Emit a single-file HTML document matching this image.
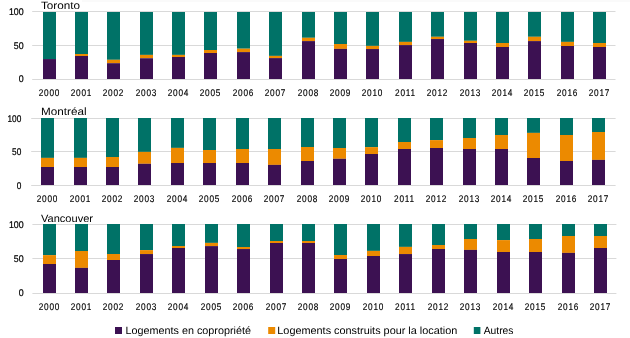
<!DOCTYPE html><html><head><meta charset="utf-8"><style>html,body{margin:0;padding:0;background:#fff;width:630px;height:338px;overflow:hidden}svg{display:block;will-change:transform}text{font-family:"Liberation Sans",sans-serif;fill:#000;text-rendering:geometricPrecision}</style></head><body>
<svg width="630" height="338" viewBox="0 0 630 338">
<rect x="0" y="0" width="630" height="338" fill="#fff"/>
<rect x="82" y="0" width="548" height="2" fill="#fafafa"/>
<rect x="32.2" y="11" width="583.30" height="1" fill="#d9d9d9"/>
<rect x="32.2" y="45" width="583.30" height="1" fill="#d9d9d9"/>
<rect x="32.2" y="79" width="583.30" height="1" fill="#d9d9d9"/>
<text x="23.6" y="15.0" font-size="9.7" text-anchor="end" stroke="#000" stroke-width="0.22" textLength="14.7" lengthAdjust="spacingAndGlyphs">100</text>
<text x="23.6" y="49.0" font-size="9.7" text-anchor="end" stroke="#000" stroke-width="0.22" textLength="9.8" lengthAdjust="spacingAndGlyphs">50</text>
<text x="23.6" y="82.1" font-size="9.7" text-anchor="end" stroke="#000" stroke-width="0.22" textLength="4.9" lengthAdjust="spacingAndGlyphs">0</text>
<text x="40.9" y="8.8" font-size="10.6" textLength="39" lengthAdjust="spacingAndGlyphs">Toronto</text>
<rect x="43.00" y="12" width="13" height="47.00" fill="#007267"/>
<rect x="43.00" y="59.05" width="13" height="19.95" fill="#3c1152"/>
<text transform="translate(49.40,96.1) scale(0.85,1)" font-size="9.7" text-anchor="middle" letter-spacing="0.84" stroke="#000" stroke-width="0.15">2000</text>
<rect x="75.00" y="12" width="13" height="42.00" fill="#007267"/>
<rect x="75.00" y="54.00" width="13" height="2.00" fill="#ec8a00"/>
<rect x="75.00" y="56.00" width="13" height="23.00" fill="#3c1152"/>
<text transform="translate(81.40,96.1) scale(0.85,1)" font-size="9.7" text-anchor="middle" letter-spacing="0.84" stroke="#000" stroke-width="0.15">2001</text>
<rect x="107.00" y="12" width="13" height="47.80" fill="#007267"/>
<rect x="107.00" y="59.80" width="13" height="3.40" fill="#ec8a00"/>
<rect x="107.00" y="63.20" width="13" height="15.80" fill="#3c1152"/>
<text transform="translate(113.40,96.1) scale(0.85,1)" font-size="9.7" text-anchor="middle" letter-spacing="0.84" stroke="#000" stroke-width="0.15">2002</text>
<rect x="140.00" y="12" width="13" height="42.90" fill="#007267"/>
<rect x="140.00" y="54.90" width="13" height="3.35" fill="#ec8a00"/>
<rect x="140.00" y="58.25" width="13" height="20.75" fill="#3c1152"/>
<text transform="translate(146.40,96.1) scale(0.85,1)" font-size="9.7" text-anchor="middle" letter-spacing="0.84" stroke="#000" stroke-width="0.15">2003</text>
<rect x="172.00" y="12" width="13" height="42.90" fill="#007267"/>
<rect x="172.00" y="54.90" width="13" height="2.10" fill="#ec8a00"/>
<rect x="172.00" y="57.00" width="13" height="22.00" fill="#3c1152"/>
<text transform="translate(178.40,96.1) scale(0.85,1)" font-size="9.7" text-anchor="middle" letter-spacing="0.84" stroke="#000" stroke-width="0.15">2004</text>
<rect x="204.00" y="12" width="13" height="38.00" fill="#007267"/>
<rect x="204.00" y="50.00" width="13" height="3.00" fill="#ec8a00"/>
<rect x="204.00" y="53.00" width="13" height="26.00" fill="#3c1152"/>
<text transform="translate(210.40,96.1) scale(0.85,1)" font-size="9.7" text-anchor="middle" letter-spacing="0.84" stroke="#000" stroke-width="0.15">2005</text>
<rect x="237.00" y="12" width="13" height="36.70" fill="#007267"/>
<rect x="237.00" y="48.70" width="13" height="3.40" fill="#ec8a00"/>
<rect x="237.00" y="52.10" width="13" height="26.90" fill="#3c1152"/>
<text transform="translate(243.40,96.1) scale(0.85,1)" font-size="9.7" text-anchor="middle" letter-spacing="0.84" stroke="#000" stroke-width="0.15">2006</text>
<rect x="269.00" y="12" width="13" height="43.90" fill="#007267"/>
<rect x="269.00" y="55.90" width="13" height="2.20" fill="#ec8a00"/>
<rect x="269.00" y="58.10" width="13" height="20.90" fill="#3c1152"/>
<text transform="translate(275.40,96.1) scale(0.85,1)" font-size="9.7" text-anchor="middle" letter-spacing="0.84" stroke="#000" stroke-width="0.15">2007</text>
<rect x="302.00" y="12" width="13" height="25.80" fill="#007267"/>
<rect x="302.00" y="37.80" width="13" height="3.30" fill="#ec8a00"/>
<rect x="302.00" y="41.10" width="13" height="37.90" fill="#3c1152"/>
<text transform="translate(308.40,96.1) scale(0.85,1)" font-size="9.7" text-anchor="middle" letter-spacing="0.84" stroke="#000" stroke-width="0.15">2008</text>
<rect x="334.00" y="12" width="13" height="32.00" fill="#007267"/>
<rect x="334.00" y="44.00" width="13" height="4.90" fill="#ec8a00"/>
<rect x="334.00" y="48.90" width="13" height="30.10" fill="#3c1152"/>
<text transform="translate(340.40,96.1) scale(0.85,1)" font-size="9.7" text-anchor="middle" letter-spacing="0.84" stroke="#000" stroke-width="0.15">2009</text>
<rect x="366.00" y="12" width="13" height="33.90" fill="#007267"/>
<rect x="366.00" y="45.90" width="13" height="3.15" fill="#ec8a00"/>
<rect x="366.00" y="49.05" width="13" height="29.95" fill="#3c1152"/>
<text transform="translate(372.40,96.1) scale(0.85,1)" font-size="9.7" text-anchor="middle" letter-spacing="0.84" stroke="#000" stroke-width="0.15">2010</text>
<rect x="399.00" y="12" width="13" height="29.90" fill="#007267"/>
<rect x="399.00" y="41.90" width="13" height="3.20" fill="#ec8a00"/>
<rect x="399.00" y="45.10" width="13" height="33.90" fill="#3c1152"/>
<text transform="translate(405.40,96.1) scale(0.85,1)" font-size="9.7" text-anchor="middle" letter-spacing="0.84" stroke="#000" stroke-width="0.15">2011</text>
<rect x="431.00" y="12" width="13" height="24.80" fill="#007267"/>
<rect x="431.00" y="36.80" width="13" height="2.25" fill="#ec8a00"/>
<rect x="431.00" y="39.05" width="13" height="39.95" fill="#3c1152"/>
<text transform="translate(437.40,96.1) scale(0.85,1)" font-size="9.7" text-anchor="middle" letter-spacing="0.84" stroke="#000" stroke-width="0.15">2012</text>
<rect x="464.00" y="12" width="13" height="28.80" fill="#007267"/>
<rect x="464.00" y="40.80" width="13" height="2.20" fill="#ec8a00"/>
<rect x="464.00" y="43.00" width="13" height="36.00" fill="#3c1152"/>
<text transform="translate(470.40,96.1) scale(0.85,1)" font-size="9.7" text-anchor="middle" letter-spacing="0.84" stroke="#000" stroke-width="0.15">2013</text>
<rect x="496.00" y="12" width="13" height="31.00" fill="#007267"/>
<rect x="496.00" y="43.00" width="13" height="4.00" fill="#ec8a00"/>
<rect x="496.00" y="47.00" width="13" height="32.00" fill="#3c1152"/>
<text transform="translate(502.40,96.1) scale(0.85,1)" font-size="9.7" text-anchor="middle" letter-spacing="0.84" stroke="#000" stroke-width="0.15">2014</text>
<rect x="528.00" y="12" width="13" height="24.80" fill="#007267"/>
<rect x="528.00" y="36.80" width="13" height="4.30" fill="#ec8a00"/>
<rect x="528.00" y="41.10" width="13" height="37.90" fill="#3c1152"/>
<text transform="translate(534.40,96.1) scale(0.85,1)" font-size="9.7" text-anchor="middle" letter-spacing="0.84" stroke="#000" stroke-width="0.15">2015</text>
<rect x="561.00" y="12" width="13" height="29.90" fill="#007267"/>
<rect x="561.00" y="41.90" width="13" height="4.10" fill="#ec8a00"/>
<rect x="561.00" y="46.00" width="13" height="33.00" fill="#3c1152"/>
<text transform="translate(567.40,96.1) scale(0.85,1)" font-size="9.7" text-anchor="middle" letter-spacing="0.84" stroke="#000" stroke-width="0.15">2016</text>
<rect x="593.00" y="12" width="13" height="31.00" fill="#007267"/>
<rect x="593.00" y="43.00" width="13" height="4.00" fill="#ec8a00"/>
<rect x="593.00" y="47.00" width="13" height="32.00" fill="#3c1152"/>
<text transform="translate(599.40,96.1) scale(0.85,1)" font-size="9.7" text-anchor="middle" letter-spacing="0.84" stroke="#000" stroke-width="0.15">2017</text>
<rect x="31.2" y="118" width="584.40" height="1" fill="#d9d9d9"/>
<rect x="31.2" y="151" width="584.40" height="1" fill="#d9d9d9"/>
<rect x="31.2" y="185" width="584.40" height="1" fill="#d9d9d9"/>
<text x="21.3" y="121.6" font-size="9.7" text-anchor="end" stroke="#000" stroke-width="0.22" textLength="13.8" lengthAdjust="spacingAndGlyphs">100</text>
<text x="21.3" y="154.6" font-size="9.7" text-anchor="end" stroke="#000" stroke-width="0.22" textLength="9.2" lengthAdjust="spacingAndGlyphs">50</text>
<text x="21.3" y="189.1" font-size="9.7" text-anchor="end" stroke="#000" stroke-width="0.22" textLength="4.6" lengthAdjust="spacingAndGlyphs">0</text>
<text x="41.1" y="115.0" font-size="10.6" textLength="45.5" lengthAdjust="spacingAndGlyphs">Montréal</text>
<rect x="41.00" y="118" width="13" height="39.90" fill="#007267"/>
<rect x="41.00" y="157.90" width="13" height="9.10" fill="#ec8a00"/>
<rect x="41.00" y="167.00" width="13" height="18.00" fill="#3c1152"/>
<text transform="translate(47.40,202.0) scale(0.85,1)" font-size="9.7" text-anchor="middle" letter-spacing="0.84" stroke="#000" stroke-width="0.15">2000</text>
<rect x="74.00" y="118" width="13" height="39.90" fill="#007267"/>
<rect x="74.00" y="157.90" width="13" height="9.10" fill="#ec8a00"/>
<rect x="74.00" y="167.00" width="13" height="18.00" fill="#3c1152"/>
<text transform="translate(80.40,202.0) scale(0.85,1)" font-size="9.7" text-anchor="middle" letter-spacing="0.84" stroke="#000" stroke-width="0.15">2001</text>
<rect x="106.00" y="118" width="13" height="39.00" fill="#007267"/>
<rect x="106.00" y="157.00" width="13" height="10.00" fill="#ec8a00"/>
<rect x="106.00" y="167.00" width="13" height="18.00" fill="#3c1152"/>
<text transform="translate(112.40,202.0) scale(0.85,1)" font-size="9.7" text-anchor="middle" letter-spacing="0.84" stroke="#000" stroke-width="0.15">2002</text>
<rect x="138.00" y="118" width="13" height="33.90" fill="#007267"/>
<rect x="138.00" y="151.90" width="13" height="11.90" fill="#ec8a00"/>
<rect x="138.00" y="163.80" width="13" height="21.20" fill="#3c1152"/>
<text transform="translate(144.40,202.0) scale(0.85,1)" font-size="9.7" text-anchor="middle" letter-spacing="0.84" stroke="#000" stroke-width="0.15">2003</text>
<rect x="171.00" y="118" width="13" height="29.90" fill="#007267"/>
<rect x="171.00" y="147.90" width="13" height="15.10" fill="#ec8a00"/>
<rect x="171.00" y="163.00" width="13" height="22.00" fill="#3c1152"/>
<text transform="translate(177.40,202.0) scale(0.85,1)" font-size="9.7" text-anchor="middle" letter-spacing="0.84" stroke="#000" stroke-width="0.15">2004</text>
<rect x="203.00" y="118" width="13" height="32.00" fill="#007267"/>
<rect x="203.00" y="150.00" width="13" height="13.00" fill="#ec8a00"/>
<rect x="203.00" y="163.00" width="13" height="22.00" fill="#3c1152"/>
<text transform="translate(209.40,202.0) scale(0.85,1)" font-size="9.7" text-anchor="middle" letter-spacing="0.84" stroke="#000" stroke-width="0.15">2005</text>
<rect x="236.00" y="118" width="13" height="31.00" fill="#007267"/>
<rect x="236.00" y="149.00" width="13" height="14.00" fill="#ec8a00"/>
<rect x="236.00" y="163.00" width="13" height="22.00" fill="#3c1152"/>
<text transform="translate(242.40,202.0) scale(0.85,1)" font-size="9.7" text-anchor="middle" letter-spacing="0.84" stroke="#000" stroke-width="0.15">2006</text>
<rect x="268.00" y="118" width="13" height="31.00" fill="#007267"/>
<rect x="268.00" y="149.00" width="13" height="15.90" fill="#ec8a00"/>
<rect x="268.00" y="164.90" width="13" height="20.10" fill="#3c1152"/>
<text transform="translate(274.40,202.0) scale(0.85,1)" font-size="9.7" text-anchor="middle" letter-spacing="0.84" stroke="#000" stroke-width="0.15">2007</text>
<rect x="301.00" y="118" width="13" height="29.00" fill="#007267"/>
<rect x="301.00" y="147.00" width="13" height="14.00" fill="#ec8a00"/>
<rect x="301.00" y="161.00" width="13" height="24.00" fill="#3c1152"/>
<text transform="translate(307.40,202.0) scale(0.85,1)" font-size="9.7" text-anchor="middle" letter-spacing="0.84" stroke="#000" stroke-width="0.15">2008</text>
<rect x="333.00" y="118" width="13" height="30.00" fill="#007267"/>
<rect x="333.00" y="148.00" width="13" height="10.80" fill="#ec8a00"/>
<rect x="333.00" y="158.80" width="13" height="26.20" fill="#3c1152"/>
<text transform="translate(339.40,202.0) scale(0.85,1)" font-size="9.7" text-anchor="middle" letter-spacing="0.84" stroke="#000" stroke-width="0.15">2009</text>
<rect x="365.00" y="118" width="13" height="29.10" fill="#007267"/>
<rect x="365.00" y="147.10" width="13" height="6.90" fill="#ec8a00"/>
<rect x="365.00" y="154.00" width="13" height="31.00" fill="#3c1152"/>
<text transform="translate(371.40,202.0) scale(0.85,1)" font-size="9.7" text-anchor="middle" letter-spacing="0.84" stroke="#000" stroke-width="0.15">2010</text>
<rect x="398.00" y="118" width="13" height="24.00" fill="#007267"/>
<rect x="398.00" y="142.00" width="13" height="7.00" fill="#ec8a00"/>
<rect x="398.00" y="149.00" width="13" height="36.00" fill="#3c1152"/>
<text transform="translate(404.40,202.0) scale(0.85,1)" font-size="9.7" text-anchor="middle" letter-spacing="0.84" stroke="#000" stroke-width="0.15">2011</text>
<rect x="430.00" y="118" width="13" height="22.10" fill="#007267"/>
<rect x="430.00" y="140.10" width="13" height="7.90" fill="#ec8a00"/>
<rect x="430.00" y="148.00" width="13" height="37.00" fill="#3c1152"/>
<text transform="translate(436.40,202.0) scale(0.85,1)" font-size="9.7" text-anchor="middle" letter-spacing="0.84" stroke="#000" stroke-width="0.15">2012</text>
<rect x="463.00" y="118" width="13" height="20.00" fill="#007267"/>
<rect x="463.00" y="138.00" width="13" height="11.00" fill="#ec8a00"/>
<rect x="463.00" y="149.00" width="13" height="36.00" fill="#3c1152"/>
<text transform="translate(469.40,202.0) scale(0.85,1)" font-size="9.7" text-anchor="middle" letter-spacing="0.84" stroke="#000" stroke-width="0.15">2013</text>
<rect x="495.00" y="118" width="13" height="17.00" fill="#007267"/>
<rect x="495.00" y="135.00" width="13" height="14.00" fill="#ec8a00"/>
<rect x="495.00" y="149.00" width="13" height="36.00" fill="#3c1152"/>
<text transform="translate(501.40,202.0) scale(0.85,1)" font-size="9.7" text-anchor="middle" letter-spacing="0.84" stroke="#000" stroke-width="0.15">2014</text>
<rect x="527.00" y="118" width="13" height="14.90" fill="#007267"/>
<rect x="527.00" y="132.90" width="13" height="25.10" fill="#ec8a00"/>
<rect x="527.00" y="158.00" width="13" height="27.00" fill="#3c1152"/>
<text transform="translate(533.40,202.0) scale(0.85,1)" font-size="9.7" text-anchor="middle" letter-spacing="0.84" stroke="#000" stroke-width="0.15">2015</text>
<rect x="560.00" y="118" width="13" height="17.00" fill="#007267"/>
<rect x="560.00" y="135.00" width="13" height="26.00" fill="#ec8a00"/>
<rect x="560.00" y="161.00" width="13" height="24.00" fill="#3c1152"/>
<text transform="translate(566.40,202.0) scale(0.85,1)" font-size="9.7" text-anchor="middle" letter-spacing="0.84" stroke="#000" stroke-width="0.15">2016</text>
<rect x="592.00" y="118" width="13" height="14.00" fill="#007267"/>
<rect x="592.00" y="132.00" width="13" height="27.90" fill="#ec8a00"/>
<rect x="592.00" y="159.90" width="13" height="25.10" fill="#3c1152"/>
<text transform="translate(598.40,202.0) scale(0.85,1)" font-size="9.7" text-anchor="middle" letter-spacing="0.84" stroke="#000" stroke-width="0.15">2017</text>
<rect x="32.4" y="224" width="584.00" height="1" fill="#d9d9d9"/>
<rect x="32.4" y="258" width="584.00" height="1" fill="#d9d9d9"/>
<rect x="32.4" y="293" width="584.00" height="1" fill="#d9d9d9"/>
<text x="23.6" y="228.0" font-size="9.7" text-anchor="end" stroke="#000" stroke-width="0.22" textLength="14.7" lengthAdjust="spacingAndGlyphs">100</text>
<text x="23.6" y="262.0" font-size="9.7" text-anchor="end" stroke="#000" stroke-width="0.22" textLength="9.8" lengthAdjust="spacingAndGlyphs">50</text>
<text x="23.6" y="296.1" font-size="9.7" text-anchor="end" stroke="#000" stroke-width="0.22" textLength="4.9" lengthAdjust="spacingAndGlyphs">0</text>
<text x="41.0" y="221.8" font-size="10.6" textLength="52" lengthAdjust="spacingAndGlyphs">Vancouver</text>
<rect x="43.00" y="224" width="13" height="31.10" fill="#007267"/>
<rect x="43.00" y="255.10" width="13" height="8.90" fill="#ec8a00"/>
<rect x="43.00" y="264.00" width="13" height="29.00" fill="#3c1152"/>
<text transform="translate(49.40,310.0) scale(0.85,1)" font-size="9.7" text-anchor="middle" letter-spacing="0.84" stroke="#000" stroke-width="0.15">2000</text>
<rect x="75.00" y="224" width="13" height="27.00" fill="#007267"/>
<rect x="75.00" y="251.00" width="13" height="16.90" fill="#ec8a00"/>
<rect x="75.00" y="267.90" width="13" height="25.10" fill="#3c1152"/>
<text transform="translate(81.40,310.0) scale(0.85,1)" font-size="9.7" text-anchor="middle" letter-spacing="0.84" stroke="#000" stroke-width="0.15">2001</text>
<rect x="107.00" y="224" width="13" height="30.00" fill="#007267"/>
<rect x="107.00" y="254.00" width="13" height="6.00" fill="#ec8a00"/>
<rect x="107.00" y="260.00" width="13" height="33.00" fill="#3c1152"/>
<text transform="translate(113.40,310.0) scale(0.85,1)" font-size="9.7" text-anchor="middle" letter-spacing="0.84" stroke="#000" stroke-width="0.15">2002</text>
<rect x="140.00" y="224" width="13" height="26.10" fill="#007267"/>
<rect x="140.00" y="250.10" width="13" height="3.95" fill="#ec8a00"/>
<rect x="140.00" y="254.05" width="13" height="38.95" fill="#3c1152"/>
<text transform="translate(146.40,310.0) scale(0.85,1)" font-size="9.7" text-anchor="middle" letter-spacing="0.84" stroke="#000" stroke-width="0.15">2003</text>
<rect x="172.00" y="224" width="13" height="22.00" fill="#007267"/>
<rect x="172.00" y="246.00" width="13" height="2.00" fill="#ec8a00"/>
<rect x="172.00" y="248.00" width="13" height="45.00" fill="#3c1152"/>
<text transform="translate(178.40,310.0) scale(0.85,1)" font-size="9.7" text-anchor="middle" letter-spacing="0.84" stroke="#000" stroke-width="0.15">2004</text>
<rect x="205.00" y="224" width="13" height="18.90" fill="#007267"/>
<rect x="205.00" y="242.90" width="13" height="3.20" fill="#ec8a00"/>
<rect x="205.00" y="246.10" width="13" height="46.90" fill="#3c1152"/>
<text transform="translate(211.40,310.0) scale(0.85,1)" font-size="9.7" text-anchor="middle" letter-spacing="0.84" stroke="#000" stroke-width="0.15">2005</text>
<rect x="237.00" y="224" width="13" height="23.00" fill="#007267"/>
<rect x="237.00" y="247.00" width="13" height="2.05" fill="#ec8a00"/>
<rect x="237.00" y="249.05" width="13" height="43.95" fill="#3c1152"/>
<text transform="translate(243.40,310.0) scale(0.85,1)" font-size="9.7" text-anchor="middle" letter-spacing="0.84" stroke="#000" stroke-width="0.15">2006</text>
<rect x="270.00" y="224" width="13" height="17.00" fill="#007267"/>
<rect x="270.00" y="241.00" width="13" height="2.00" fill="#ec8a00"/>
<rect x="270.00" y="243.00" width="13" height="50.00" fill="#3c1152"/>
<text transform="translate(276.40,310.0) scale(0.85,1)" font-size="9.7" text-anchor="middle" letter-spacing="0.84" stroke="#000" stroke-width="0.15">2007</text>
<rect x="302.00" y="224" width="13" height="17.00" fill="#007267"/>
<rect x="302.00" y="241.00" width="13" height="2.00" fill="#ec8a00"/>
<rect x="302.00" y="243.00" width="13" height="50.00" fill="#3c1152"/>
<text transform="translate(308.40,310.0) scale(0.85,1)" font-size="9.7" text-anchor="middle" letter-spacing="0.84" stroke="#000" stroke-width="0.15">2008</text>
<rect x="334.00" y="224" width="13" height="31.00" fill="#007267"/>
<rect x="334.00" y="255.00" width="13" height="4.00" fill="#ec8a00"/>
<rect x="334.00" y="259.00" width="13" height="34.00" fill="#3c1152"/>
<text transform="translate(340.40,310.0) scale(0.85,1)" font-size="9.7" text-anchor="middle" letter-spacing="0.84" stroke="#000" stroke-width="0.15">2009</text>
<rect x="367.00" y="224" width="13" height="26.90" fill="#007267"/>
<rect x="367.00" y="250.90" width="13" height="5.10" fill="#ec8a00"/>
<rect x="367.00" y="256.00" width="13" height="37.00" fill="#3c1152"/>
<text transform="translate(373.40,310.0) scale(0.85,1)" font-size="9.7" text-anchor="middle" letter-spacing="0.84" stroke="#000" stroke-width="0.15">2010</text>
<rect x="399.00" y="224" width="13" height="22.90" fill="#007267"/>
<rect x="399.00" y="246.90" width="13" height="7.15" fill="#ec8a00"/>
<rect x="399.00" y="254.05" width="13" height="38.95" fill="#3c1152"/>
<text transform="translate(405.40,310.0) scale(0.85,1)" font-size="9.7" text-anchor="middle" letter-spacing="0.84" stroke="#000" stroke-width="0.15">2011</text>
<rect x="432.00" y="224" width="13" height="21.00" fill="#007267"/>
<rect x="432.00" y="245.00" width="13" height="4.00" fill="#ec8a00"/>
<rect x="432.00" y="249.00" width="13" height="44.00" fill="#3c1152"/>
<text transform="translate(438.40,310.0) scale(0.85,1)" font-size="9.7" text-anchor="middle" letter-spacing="0.84" stroke="#000" stroke-width="0.15">2012</text>
<rect x="464.00" y="224" width="13" height="15.00" fill="#007267"/>
<rect x="464.00" y="239.00" width="13" height="10.90" fill="#ec8a00"/>
<rect x="464.00" y="249.90" width="13" height="43.10" fill="#3c1152"/>
<text transform="translate(470.40,310.0) scale(0.85,1)" font-size="9.7" text-anchor="middle" letter-spacing="0.84" stroke="#000" stroke-width="0.15">2013</text>
<rect x="497.00" y="224" width="13" height="16.10" fill="#007267"/>
<rect x="497.00" y="240.10" width="13" height="11.90" fill="#ec8a00"/>
<rect x="497.00" y="252.00" width="13" height="41.00" fill="#3c1152"/>
<text transform="translate(503.40,310.0) scale(0.85,1)" font-size="9.7" text-anchor="middle" letter-spacing="0.84" stroke="#000" stroke-width="0.15">2014</text>
<rect x="529.00" y="224" width="13" height="15.00" fill="#007267"/>
<rect x="529.00" y="239.00" width="13" height="13.00" fill="#ec8a00"/>
<rect x="529.00" y="252.00" width="13" height="41.00" fill="#3c1152"/>
<text transform="translate(535.40,310.0) scale(0.85,1)" font-size="9.7" text-anchor="middle" letter-spacing="0.84" stroke="#000" stroke-width="0.15">2015</text>
<rect x="562.00" y="224" width="13" height="12.00" fill="#007267"/>
<rect x="562.00" y="236.00" width="13" height="16.90" fill="#ec8a00"/>
<rect x="562.00" y="252.90" width="13" height="40.10" fill="#3c1152"/>
<text transform="translate(568.40,310.0) scale(0.85,1)" font-size="9.7" text-anchor="middle" letter-spacing="0.84" stroke="#000" stroke-width="0.15">2016</text>
<rect x="594.00" y="224" width="13" height="12.00" fill="#007267"/>
<rect x="594.00" y="236.00" width="13" height="12.00" fill="#ec8a00"/>
<rect x="594.00" y="248.00" width="13" height="45.00" fill="#3c1152"/>
<text transform="translate(600.40,310.0) scale(0.85,1)" font-size="9.7" text-anchor="middle" letter-spacing="0.84" stroke="#000" stroke-width="0.15">2017</text>
<rect x="115" y="327" width="7" height="7" fill="#3c1152"/>
<text x="125.6" y="334" font-size="10.5" textLength="125.3" lengthAdjust="spacingAndGlyphs">Logements en copropriété</text>
<rect x="268.2" y="327" width="7" height="7" fill="#ec8a00"/>
<text x="277.3" y="334" font-size="10.5" textLength="180" lengthAdjust="spacingAndGlyphs">Logements construits pour la location</text>
<rect x="473.8" y="327" width="6.6" height="7" fill="#007267"/>
<text x="483.7" y="334" font-size="10.5" textLength="29.8" lengthAdjust="spacingAndGlyphs">Autres</text>
</svg></body></html>
